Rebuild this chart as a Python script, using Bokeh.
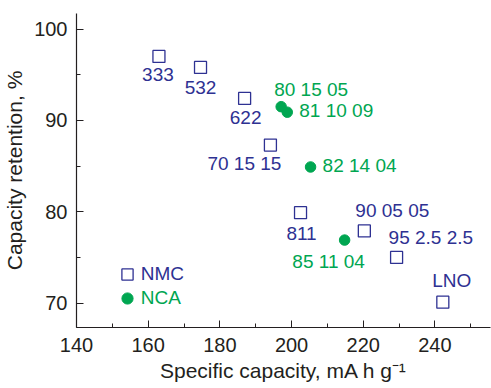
from bokeh.plotting import figure
from bokeh.models import ColumnDataSource, Range1d, SingleIntervalTicker, Legend, LegendItem
from bokeh.embed import file_html
from bokeh.resources import INLINE

# ---- data ----
nmc_names = ["333", "532", "622", "70 15 15", "811", "90 05 05", "95 2.5 2.5", "LNO"]
nmc_capacity = [163.0, 174.6, 186.9, 194.1, 202.5, 220.3, 229.3, 242.2]
nmc_retention = [97.0, 95.8, 92.4, 87.3, 79.9, 77.9, 75.0, 70.1]

nca_names = ["80 15 05", "81 10 09", "82 14 04", "85 11 04"]
nca_capacity = [197.1, 198.8, 205.3, 214.8]
nca_retention = [91.5, 90.9, 84.9, 76.9]

x_ticks_interval = 20
y_ticks_interval = 10

# ---- label placement (style, screen px) ----
nmc_dx = [-1, 0, 1, 11, 1, -9, -8, 9]
nmc_dy = [18, 20, 19, 18, 21, -20, -20, -22]
nmc_align = ["center", "center", "center", "right", "center", "left", "left", "center"]
nca_dx = [-7, 12, 12, -16]
nca_dy = [-17, -2, -1, 21]
nca_align = ["left", "left", "left", "center"]

BLUE = "#2E3192"
GREEN = "#00A651"
INK = "#231F20"
FONT = "Liberation Sans"

p = figure(width=491, height=388, output_backend="svg", toolbar_location=None,
           x_range=Range1d(140, 255.5), y_range=Range1d(67.33, 101.7))
p.min_border_left = 76
p.min_border_right = 1
p.min_border_top = 13
p.min_border_bottom = 61
p.outline_line_color = None
p.xgrid.visible = False
p.ygrid.visible = False
p.background_fill_color = "white"
p.border_fill_color = "white"

p.xaxis.ticker = SingleIntervalTicker(interval=x_ticks_interval, num_minor_ticks=2)
p.yaxis.ticker = SingleIntervalTicker(interval=y_ticks_interval, num_minor_ticks=2)

for ax in (p.xaxis[0], p.yaxis[0]):
    ax.axis_line_color = INK
    ax.axis_line_width = 1.2
    ax.major_tick_line_color = INK
    ax.minor_tick_line_color = INK
    ax.major_tick_in = 7
    ax.major_tick_out = 0
    ax.minor_tick_in = 4
    ax.minor_tick_out = 0
    ax.major_label_text_font = FONT
    ax.major_label_text_font_size = "20px"
    ax.major_label_text_color = INK
    ax.axis_label_text_font = FONT
    ax.axis_label_text_font_size = "21px"
    ax.axis_label_text_font_style = "normal"
    ax.axis_label_text_color = INK

p.xaxis.axis_label = "Specific capacity, mA h g\u207b\u00b9"
p.yaxis.axis_label = "Capacity retention, %"
p.xaxis.major_label_standoff = 10
p.yaxis.major_label_standoff = 9
p.xaxis.axis_label_standoff = 4
p.yaxis.axis_label_standoff = 5

nmc_src = ColumnDataSource(dict(x=nmc_capacity, y=nmc_retention, name=nmc_names,
                                dx=nmc_dx, dy=nmc_dy, align=nmc_align))
nca_src = ColumnDataSource(dict(x=nca_capacity, y=nca_retention, name=nca_names,
                                dx=nca_dx, dy=nca_dy, align=nca_align))

r_nmc = p.scatter("x", "y", source=nmc_src, marker="square", size=12,
                  fill_color=None, line_color=BLUE, line_width=1.3)
r_nca = p.scatter("x", "y", source=nca_src, marker="circle", size=10.5,
                  fill_color=GREEN, line_color=GREEN, line_width=1)

p.text("x", "y", text="name", source=nmc_src, x_offset="dx", y_offset="dy",
       text_align="align", text_baseline="middle", text_color=BLUE,
       text_font_size="19px", text_font={"value": FONT})
p.text("x", "y", text="name", source=nca_src, x_offset="dx", y_offset="dy",
       text_align="align", text_baseline="middle", text_color=GREEN,
       text_font_size="19px", text_font={"value": FONT})

def make_legend(label, renderer, color, loc):
    lg = Legend(items=[LegendItem(label=label, renderers=[renderer])], location=loc,
                glyph_width=28, glyph_height=28, label_standoff=0, padding=0, margin=0,
                spacing=0, border_line_color=None, background_fill_alpha=0,
                label_text_color=color, label_text_font=FONT, label_text_font_size="19px")
    p.add_layout(lg)

make_legend("NMC", r_nmc, BLUE, (36.7, 38.7))
make_legend("NCA", r_nca, GREEN, (36.7, 14.7))

open("out.html", "w").write(file_html(p, INLINE))
